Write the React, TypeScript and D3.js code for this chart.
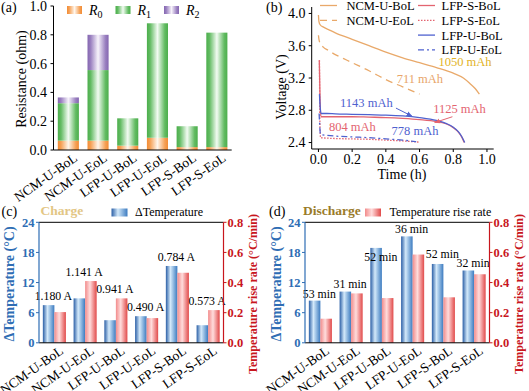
import React from 'react';
import * as d3 from 'd3';

// ---------- shared ----------
const categories = ['NCM-U-BoL', 'NCM-U-EoL', 'LFP-U-BoL', 'LFP-U-EoL', 'LFP-S-BoL', 'LFP-S-EoL'];

// ---------- (a) resistance (ohm) ----------
const r0 = [0.065, 0.065, 0.03, 0.085, 0.02, 0.02];
const r1 = [0.26, 0.49, 0.19, 0.795, 0.145, 0.795];
const r2 = [0.04, 0.245, 0, 0, 0, 0];
const resistanceTicks = [0, 0.2, 0.4, 0.6, 0.8, 1.0];
const resistanceKeys = ['R0', 'R1', 'R2'];

// ---------- (b) discharge curves ----------
const ncmBoLTime = [0, 0.003, 0.01, 0.03, 0.06, 0.1, 0.2, 0.3, 0.4, 0.5, 0.6, 0.7, 0.8, 0.86, 0.9, 0.93, 0.955];
const ncmBoLVolt = [3.98, 3.9, 3.86, 3.83, 3.8, 3.76, 3.68, 3.6, 3.52, 3.45, 3.39, 3.33, 3.26, 3.2, 3.13, 3.07, 3.0];
const ncmEoLTime = [0, 0.003, 0.01, 0.03, 0.06, 0.1, 0.15, 0.2, 0.3, 0.4, 0.5, 0.6];
const ncmEoLVolt = [3.73, 3.68, 3.63, 3.58, 3.54, 3.49, 3.44, 3.39, 3.29, 3.18, 3.09, 3.0];
const lfpSBoLTime = [0.005, 0.01, 0.015, 0.05, 0.1, 0.2, 0.3, 0.4, 0.5, 0.6, 0.7, 0.76, 0.8, 0.83, 0.85, 0.865];
const lfpSBoLVolt = [3.42, 2.9, 2.72, 2.72, 2.72, 2.72, 2.715, 2.71, 2.7, 2.685, 2.66, 2.63, 2.585, 2.53, 2.47, 2.4];
const lfpSEoLTime = [0.006, 0.009, 0.013, 0.05, 0.1, 0.2, 0.3, 0.4, 0.5, 0.6];
const lfpSEoLVolt = [3.42, 2.6, 2.46, 2.455, 2.45, 2.445, 2.44, 2.43, 2.42, 2.405];
const lfpUBoLTime = [0.006, 0.01, 0.015, 0.05, 0.1, 0.2, 0.3, 0.4, 0.5, 0.6, 0.7, 0.76, 0.8, 0.83, 0.85, 0.868];
const lfpUBoLVolt = [3.0, 2.85, 2.76, 2.76, 2.755, 2.75, 2.745, 2.74, 2.73, 2.71, 2.675, 2.635, 2.59, 2.535, 2.475, 2.4];
const lfpUEoLTime = [0.004, 0.008, 0.012, 0.05, 0.1, 0.2, 0.3, 0.4, 0.5, 0.58];
const lfpUEoLVolt = [2.76, 2.6, 2.5, 2.49, 2.48, 2.47, 2.46, 2.445, 2.43, 2.41];
const timeTicks = [0, 0.2, 0.4, 0.6, 0.8, 1.0];
const voltTicks = [2.4, 2.8, 3.2, 3.6, 4.0];

const capacityText = ['1050 mAh', '711 mAh', '1143 mAh', '1125 mAh', '804 mAh', '778 mAh'];
const capacityTime = [0.712, 0.464, 0.128, 0.681, 0.062, 0.434];
const capacityVolt = [3.35, 3.14, 2.84, 2.765, 2.545, 2.493];

// ---------- (c) charge ----------
const chargeDeltaT = [7.5, 8.85, 4.5, 5.3, 15.3, 3.5];
const chargeRate = [0.204, 0.41, 0.295, 0.164, 0.465, 0.217];
const chargeCurrent = ['1.180 A', '1.141 A', '0.941 A', '0.490 A', '0.784 A', '0.573 A'];

// ---------- (d) discharge ----------
const dischargeDeltaT = [8.4, 10.2, 18.9, 21.2, 15.7, 14.4];
const dischargeRate = [0.16, 0.328, 0.297, 0.586, 0.302, 0.455];
const dischargeDuration = ['53 min', '31 min', '52 min', '36 min', '52 min', '32 min'];
const dischargeLabelAt = [8.9, 10.9, 16.2, 21.8, 16.8, 15.0];

const deltaTTicks = [0, 6, 12, 18, 24];
const rateTicks = [0, 0.2, 0.4, 0.6, 0.8];

const FONT = 'Liberation Serif, Times New Roman, Times, DejaVu Serif, serif';
const BLUE_AX = '#2e6db4';
const RED_AX = '#c8161d';
const NCM_C = '#e9a96a';
const LFPS_C = '#e36470';
const LFPU_C = '#4f62cf';

function Grad({ id, stops }: { id: string; stops: [number, string][] }) {
  return (
    <linearGradient id={id} x1="0" x2="1" y1="0" y2="0">
      {stops.map(([o, c], i) => (
        <stop key={i} offset={o} stopColor={c} />
      ))}
    </linearGradient>
  );
}

function PanelA() {
  const x = d3.scaleBand<string>().domain(categories).range([53.5, 231.7]).paddingInner(0.29).paddingOuter(0.145);
  const y = d3.scaleLinear().domain([0, 1]).range([150, 6]);
  const rows = categories.map((c, i) => ({ cat: c, R0: r0[i], R1: r1[i], R2: r2[i] }));
  const stacked = d3.stack<any>().keys(resistanceKeys)(rows);
  const fills: Record<string, string> = { R0: 'url(#gOrange)', R1: 'url(#gGreen)', R2: 'url(#gPurple)' };
  return (
    <g>
      {stacked.map((s) =>
        s.map((d, i) =>
          d[1] - d[0] > 0 ? (
            <rect key={s.key + i} x={x(categories[i])} y={y(d[1])} width={x.bandwidth()} height={y(d[0]) - y(d[1])} fill={fills[s.key]} />
          ) : null
        )
      )}
      <line x1={53.5} x2={53.5} y1={6} y2={150} stroke="#000" />
      <line x1={53.5} x2={231.7} y1={150} y2={150} stroke="#000" />
      {resistanceTicks.map((t) => (
        <g key={t}>
          <line x1={50.5} x2={53.5} y1={y(t)} y2={y(t)} stroke="#000" />
          <text x={47} y={y(t)} dy="0.35em" textAnchor="end" fontSize={14}>{d3.format('.1f')(t)}</text>
        </g>
      ))}
      {categories.map((c) => (
        <text key={c} transform={`translate(${x(c)! + x.bandwidth() / 2 + 10},${160}) rotate(-35)`} textAnchor="end" fontSize={13.5}>{c}</text>
      ))}
      <text transform="translate(26,79) rotate(-90)" textAnchor="middle" fontSize={14}>Resistance (ohm)</text>
      <text x={1} y={12} fontSize={14}>(a)</text>
      {resistanceKeys.map((k, i) => (
        <g key={k} transform={`translate(${67 + i * 48.5},0)`}>
          <rect x={0} y={6} width={15} height={8} fill={fills[k]} />
          <text x={22} y={14.5} fontSize={14}>
            <tspan fontStyle="italic">R</tspan>
            <tspan fontSize={10} dy={3}>{k.slice(1)}</tspan>
          </text>
        </g>
      ))}
    </g>
  );
}

function PanelB() {
  const x = d3.scaleLinear().domain([-0.04, 1.04]).range([311.7, 493.7]);
  const y = d3.scaleLinear().domain([2.32, 4.08]).range([149, 7]);
  const line = d3.line<[number, number]>().x((d) => x(d[0])).y((d) => y(d[1])).curve(d3.curveMonotoneX);
  const zip = (a: number[], b: number[]) => a.map((v, i) => [v, b[i]] as [number, number]);
  const series = [
    { name: 'NCM-U-BoL', t: ncmBoLTime, v: ncmBoLVolt, c: NCM_C, dash: undefined },
    { name: 'NCM-U-EoL', t: ncmEoLTime, v: ncmEoLVolt, c: NCM_C, dash: '7,5' },
    { name: 'LFP-S-BoL', t: lfpSBoLTime, v: lfpSBoLVolt, c: LFPS_C, dash: undefined },
    { name: 'LFP-S-EoL', t: lfpSEoLTime, v: lfpSEoLVolt, c: LFPS_C, dash: '1.5,1.5' },
    { name: 'LFP-U-BoL', t: lfpUBoLTime, v: lfpUBoLVolt, c: LFPU_C, dash: undefined },
    { name: 'LFP-U-EoL', t: lfpUEoLTime, v: lfpUEoLVolt, c: LFPU_C, dash: '6,3,2,3' },
  ];
  const noteColors = ['#e2b326', '#e8a56a', LFPU_C, LFPS_C, LFPS_C, LFPU_C];
  const legendPos = [
    [320, 346.5, 0], [320, 346.5, 1],
    [418, 441.5, 0], [418, 441.5, 1], [418, 441.5, 2], [418, 441.5, 3],
  ];
  return (
    <g>
      {series.map((s) => (
        <path key={s.name} d={line(zip(s.t, s.v)) || ''} fill="none" stroke={s.c} strokeWidth={1.3} strokeDasharray={s.dash} />
      ))}
      <line x1={311.7} x2={311.7} y1={7} y2={149} stroke="#000" />
      <line x1={311.7} x2={493.7} y1={149} y2={149} stroke="#000" />
      {voltTicks.map((t) => (
        <g key={t}>
          <line x1={308.7} x2={311.7} y1={y(t)} y2={y(t)} stroke="#000" />
          <text x={305.5} y={y(t)} dy="0.35em" textAnchor="end" fontSize={14}>{d3.format('.1f')(t)}</text>
        </g>
      ))}
      {timeTicks.map((t) => (
        <g key={t}>
          <line x1={x(t)} x2={x(t)} y1={149} y2={152} stroke="#000" />
          <text x={x(t)} y={163.5} textAnchor="middle" fontSize={14}>{d3.format('.1f')(t)}</text>
        </g>
      ))}
      <text transform="translate(286,87) rotate(-90)" textAnchor="middle" fontSize={14}>Voltage (V)</text>
      <text x={402} y={178.5} textAnchor="middle" fontSize={14}>Time (h)</text>
      <text x={266} y={12} fontSize={14}>(b)</text>
      {capacityText.map((t, i) => (
        <text key={t + i} x={x(capacityTime[i])} y={y(capacityVolt[i])} fontSize={12.5} fill={noteColors[i]}>{t}</text>
      ))}
      <defs>
        <marker id="arrB" viewBox="0 0 10 10" refX="9" refY="5" markerWidth="6" markerHeight="6" orient="auto">
          <path d="M0,1 L10,5 L0,9 z" fill={LFPU_C} />
        </marker>
        <marker id="arrR" viewBox="0 0 10 10" refX="9" refY="5" markerWidth="6" markerHeight="6" orient="auto">
          <path d="M0,1 L10,5 L0,9 z" fill={LFPS_C} />
        </marker>
      </defs>
      <line x1={x(0.46)} y1={y(2.827)} x2={x(0.555)} y2={y(2.727)} stroke={LFPU_C} strokeWidth={1} markerEnd="url(#arrB)" />
      <line x1={x(0.795)} y1={y(2.72)} x2={x(0.69)} y2={y(2.648)} stroke={LFPS_C} strokeWidth={1} markerEnd="url(#arrR)" />
      {series.map((s, i) => {
        const [lx, tx, row] = legendPos[i];
        const ly = 5.5 + row * 14.8;
        return (
          <g key={'lg' + s.name}>
            <line x1={lx} x2={lx + 17} y1={ly} y2={ly} stroke={s.c} strokeWidth={1.3} strokeDasharray={s.dash} />
            <text x={tx} y={ly + 4.5} fontSize={12.5}>{s.name}</text>
          </g>
        );
      })}
    </g>
  );
}

function DualPanel(props: {
  x0: number; x1: number; deltaT: number[]; rate: number[]; labels: string[]; labelAt?: number[];
  panel: string; px: number; title: string; titleColor: string; titleX: number;
  legendText: string; legendFill: string; swX: number; legTextX: number;
  leftTitleX: number; rightTitleX: number;
}) {
  const { x0, x1, deltaT, rate, labels, labelAt } = props;
  const yTop = 222.3, yBot = 342.8;
  const x = d3.scaleBand<string>().domain(categories).range([x0, x1]).paddingInner(0.25).paddingOuter(0.125);
  const sub = d3.scaleBand<string>().domain(['dT', 'rate']).range([0, x.bandwidth()]);
  const yL = d3.scaleLinear().domain([0, 24]).range([yBot, yTop]);
  const yR = d3.scaleLinear().domain([0, 0.8]).range([yBot, yTop]);
  return (
    <g>
      {categories.map((c, i) => (
        <g key={c}>
          <rect x={x(c)! + sub('dT')!} y={yL(deltaT[i])} width={sub.bandwidth()} height={yBot - yL(deltaT[i])} fill="url(#gBlue)" />
          <rect x={x(c)! + sub('rate')!} y={yR(rate[i])} width={sub.bandwidth()} height={yBot - yR(rate[i])} fill="url(#gRed)" />
        </g>
      ))}
      {categories.map((c, i) => {
        const top = labelAt ? yL(labelAt[i]) : Math.min(yL(deltaT[i]), yR(rate[i])) - 5;
        return (
          <text key={'l' + c} x={x(c)! + x.bandwidth() / 2 - 1} y={top} textAnchor="middle" fontSize={11.8}>{labels[i]}</text>
        );
      })}
      <line x1={x0} x2={x1} y1={yTop} y2={yTop} stroke="#000" />
      <line x1={x0} x2={x1} y1={yBot} y2={yBot} stroke="#000" />
      <line x1={x0} x2={x0} y1={yTop} y2={yBot} stroke={BLUE_AX} strokeWidth={1.2} />
      <line x1={x1} x2={x1} y1={yTop} y2={yBot} stroke={RED_AX} strokeWidth={1.2} />
      {deltaTTicks.map((t) => (
        <g key={'L' + t}>
          <line x1={x0 - 3} x2={x0} y1={yL(t)} y2={yL(t)} stroke={BLUE_AX} />
          <text x={x0 - 4.5} y={yL(t)} dy="0.35em" textAnchor="end" fontSize={12.5} fontWeight="bold" fill={BLUE_AX}>{t}</text>
        </g>
      ))}
      {rateTicks.map((t) => (
        <g key={'R' + t}>
          <line x1={x1} x2={x1 + 3} y1={yR(t)} y2={yR(t)} stroke={RED_AX} />
          <text x={x1 + 4} y={yR(t)} dy="0.35em" textAnchor="start" fontSize={12.5} fontWeight="bold" fill={RED_AX}>{d3.format('.1f')(t)}</text>
        </g>
      ))}
      {categories.map((c) => (
        <text key={'c' + c} transform={`translate(${x(c)! + x.bandwidth() / 2 + 10},${yBot + 10}) rotate(-35)`} textAnchor="end" fontSize={13.5}>{c}</text>
      ))}
      <text transform={`translate(${props.leftTitleX},284) rotate(-90)`} textAnchor="middle" fontSize={14} fontWeight="bold" fill={BLUE_AX}>ΔTemperature (°C)</text>
      <text transform={`translate(${props.rightTitleX},294) rotate(-90)`} textAnchor="middle" fontSize={12} fontWeight="bold" fill={RED_AX}>Temperature rise rate (°C/min)</text>
      <text x={props.px} y={215.5} fontSize={14}>{props.panel}</text>
      <text x={props.titleX} y={215} fontSize={13.5} fontWeight="bold" fill={props.titleColor}>{props.title}</text>
      <rect x={props.swX} y={208.5} width={16} height={8} fill={props.legendFill} />
      <text x={props.legTextX} y={215.5} fontSize={12}>{props.legendText}</text>
    </g>
  );
}

export default function App() {
  return (
    <svg width={529} height={391} style={{ position: 'absolute', left: 0, top: 0, background: '#fff', fontFamily: FONT }}>
      <defs>
        <Grad id="gOrange" stops={[[0, '#f28c35'], [0.15, '#f5a055'], [0.5, '#fff6ec'], [0.85, '#f5a055'], [1, '#f28c35']]} />
        <Grad id="gGreen" stops={[[0, '#4cae4c'], [0.15, '#62bb62'], [0.5, '#f2fbf2'], [0.85, '#62bb62'], [1, '#4cae4c']]} />
        <Grad id="gPurple" stops={[[0, '#8466b0'], [0.15, '#9a80c0'], [0.5, '#f7f3fb'], [0.85, '#9a80c0'], [1, '#8466b0']]} />
        <Grad id="gBlue" stops={[[0, '#2b5fa6'], [0.4, '#d3e9fa'], [1, '#3c7bc0']]} />
        <Grad id="gRed" stops={[[0, '#f28b8b'], [0.42, '#ffdcdc'], [1, '#e14a4a']]} />
      </defs>
      <PanelA />
      <PanelB />
      <DualPanel
        x0={39} x1={223.5} deltaT={chargeDeltaT} rate={chargeRate} labels={chargeCurrent}
        panel="(c)" px={1.5} title="Charge" titleColor="#e3c684" titleX={40.5}
        legendText="ΔTemperature" legendFill="url(#gBlue)" swX={111.5} legTextX={135}
        leftTitleX={14} rightTitleX={257}
      />
      <DualPanel
        x0={305} x1={489.5} deltaT={dischargeDeltaT} rate={dischargeRate} labels={dischargeDuration} labelAt={dischargeLabelAt}
        panel="(d)" px={269} title="Discharge" titleColor="#9a7b2a" titleX={303}
        legendText="Temperature rise rate" legendFill="url(#gRed)" swX={365} legTextX={389.5}
        leftTitleX={280.5} rightTitleX={523}
      />
    </svg>
  );
}
